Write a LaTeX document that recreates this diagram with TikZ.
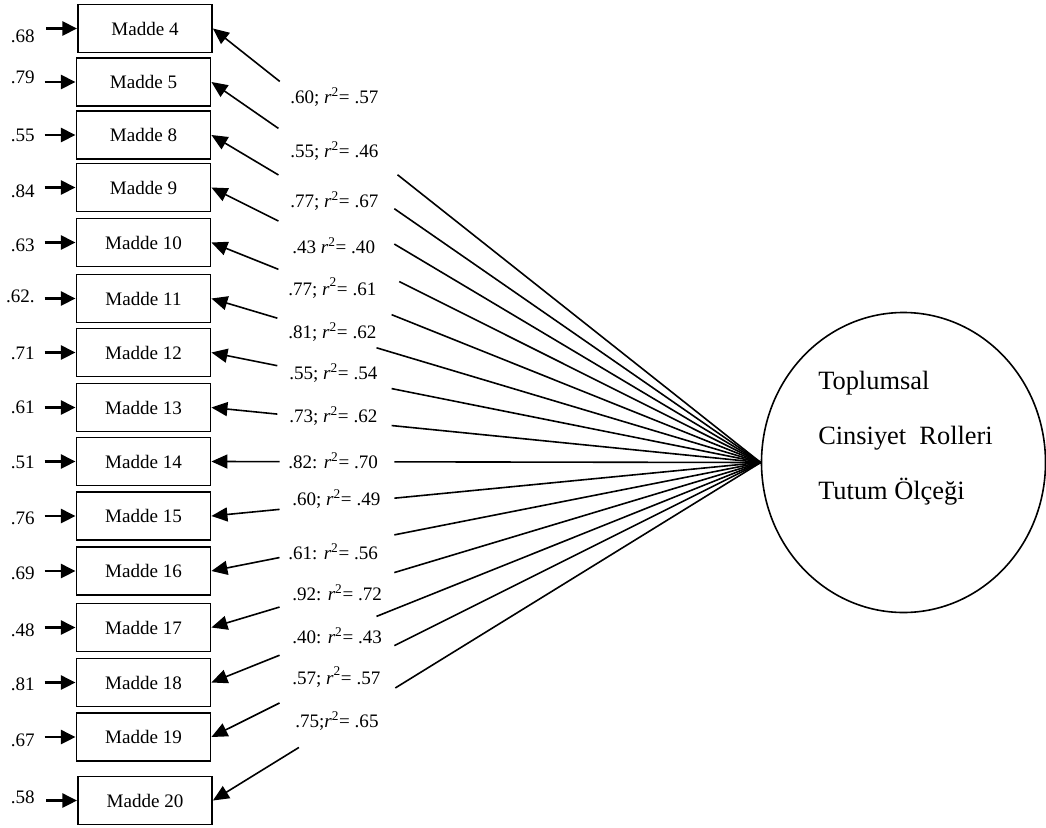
\documentclass[tikz,border=0pt]{standalone}
\usepackage{fontspec}
\setmainfont{Liberation Serif}
\usetikzlibrary{arrows.meta,shapes.geometric,calc}
\newcommand{\rsq}{\textit{r}\textsuperscript{2}}
\newcommand{\rsqh}{\textit{r}\raisebox{0.25ex}{\textsuperscript{2}}}
\tikzset{
  itembox/.style={draw, line width=1.4pt, minimum width=100.5pt, minimum height=36pt, inner sep=0pt, font=\fontsize{14.3}{16}\selectfont},
  patharr/.style={-{Triangle[length=12pt,width=10.5pt]}, line width=1.2pt},
  errarr/.style={-{Triangle[length=11pt,width=10.5pt]}, line width=1.7pt},
  pathln/.style={line width=1.2pt},
  lbl/.style={inner sep=0pt, font=\fontsize{14.3}{16}\selectfont},
}
\begin{document}
\begin{tikzpicture}[x=0.75pt,y=-0.75pt]
\useasboundingbox (0,0) rectangle (1046,828);
\node[draw, ellipse, line width=1.2pt, minimum width=213pt, minimum height=225pt, inner sep=0pt] (T) at (903.5,462.5) {};
\node[anchor=west, align=left, inner sep=0pt, font={\fontsize{19.8}{41.25}\selectfont}] (Tt) at (818,438) {Toplumsal\\Cinsiyet\ \ Rolleri\\Tutum Ölçeği};
\foreach \n/\yb/\xb/\e/\ey/\lab/\ly/\lx/\ta/\tb in {
 4/28.5/145/.68/36/{.60; \rsq= .57}/97/290/0.122/0.337,
 5/82/143.5/.79/77/{.55; \rsq= .46}/151/290/0.122/0.333,
 8/135/143.5/.55/135/{.77; \rsq= .67}/201/290/0.122/0.333,
 9/187.5/143.5/.84/191/{.43 \rsq= .40}/246/292/0.122/0.342,
 10/242.5/143.5/.63/245/{.77; \rsqh= .61}/288/288/0.122/0.328,
 11/298.5/143.5/.62./296/{.81; \rsq= .62}/332/288/0.12/0.3005,
 12/352.5/143.5/.71/353/{.55; \rsq= .54}/373/289/0.12/0.328,
 13/407.5/143.5/.61/407/{.73; \rsq= .62}/416/289/0.12/0.328,
 14/461.5/143.5/.51/462/{.82: \rsq= .70}/461/288/0.124/0.333,
 15/516/143.5/.76/518/{.60; \rsq= .49}/499/292/0.124/0.333,
 16/571/143.5/.69/573/{.61: \rsq= .56}/552/288/0.124/0.333,
 17/627.5/143.5/.48/630/{.92: \rsq= .72}/593/292/0.124/0.333,
 18/682.5/143.5/.81/684/{.40: \rsq= .43}/636/292/0.124/0.3005,
 19/737/143.5/.67/740/{.57; \rsqh= .57}/677/292/0.124/0.333,
 20/800.5/145/.58/797/{.75;\rsq= .65}/721/295/0.157/0.333}{
  \node[itembox] (m\n) at (\xb,\yb) {Madde \n};
  \node[lbl, anchor=east] (e\n) at (35,\ey) {\e};
  \draw[errarr] ($(m\n.west)+(-31,0)$) -- (m\n.west);
  \node[lbl, anchor=west] (l\n) at (\lx,\ly) {\lab};
  \path (m\n.east) -- (T.west) coordinate[pos=\ta] (a\n) coordinate[pos=\tb] (b\n);
  \draw[patharr] (a\n) -- (m\n.east);
  \draw[pathln] (b\n) -- (T.west);
}
\end{tikzpicture}
\end{document}
